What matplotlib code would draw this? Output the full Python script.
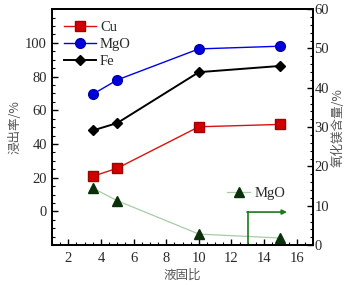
import matplotlib
matplotlib.use("Agg")
import matplotlib.pyplot as plt
from matplotlib.ticker import MultipleLocator

plt.rcParams['font.family'] = ['Liberation Serif', 'Noto Sans CJK SC']

ratio = [3.5, 5, 10, 15]
cu = [20.8, 25.6, 50.2, 51.6]
mgo_leach = [69.5, 78.0, 96.4, 98.0]
fe = [48.0, 52.4, 82.6, 86.3]
mgo_content = [14.5, 11.3, 2.8, 1.8]

x_ticks = [2, 4, 6, 8, 10, 12, 14, 16]
left_ticks = [0, 20, 40, 60, 80, 100]
right_ticks = [0, 10, 20, 30, 40, 50, 60]

cjk = ['Noto Sans CJK SC']
tick_color = '#2a2a2a'
label_color = '#555555'

fig = plt.figure(figsize=(3.51, 2.85), dpi=100)
ax = fig.add_axes([0.148, 0.140, 0.744, 0.828])
ax2 = ax.twinx()

ax.plot(ratio, cu, color='#e01010', marker='s', ms=7, mfc='#d00000', mec='#a00000',
        lw=1.0, label='Cu')
ax.plot(ratio, mgo_leach, color='#0000ee', marker='o', ms=7, mfc='#0000dd', mec='#0000aa',
        lw=1.0, label='MgO')
ax.plot(ratio, fe, color='#000000', marker='D', ms=5.5, mfc='#000000',
        lw=1.4, label='Fe')

ax2.plot(ratio, mgo_content, color='#a8cca8', marker='^', ms=6.5, mfc='#0a300a', mec='#0a300a',
         lw=0.9, label='MgO')

ax.set_xlim(1, 17)
ax.set_ylim(-20, 120)
ax2.set_ylim(0, 60)

ax.set_xticks(x_ticks)
ax.xaxis.set_minor_locator(MultipleLocator(0.5))
ax.set_yticks(left_ticks)
ax.yaxis.set_minor_locator(MultipleLocator(5))
ax2.set_yticks(right_ticks)
ax2.yaxis.set_minor_locator(MultipleLocator(2))

for a in (ax, ax2):
    a.tick_params(which='both', direction='in', labelsize=10.5, colors='#000000',
                  labelcolor=tick_color)
    a.tick_params(which='major', length=4, width=1.0)
    a.tick_params(which='minor', length=2, width=0.8)
    for s in a.spines.values():
        s.set_linewidth(1.3)
ax.tick_params(axis='x', pad=5)
ax2.tick_params(axis='y', pad=1)

ax.set_xlabel('液固比', family=cjk, fontsize=9, color=label_color, labelpad=3)
ax.set_ylabel('浸出率/%', family=cjk, fontsize=9, color=label_color, labelpad=3)
ax2.set_ylabel('氧化镁含量/%', family=cjk, fontsize=9, color=label_color, labelpad=2)

leg = ax.legend(loc='upper left', bbox_to_anchor=(0.0, 1.0), frameon=False,
                fontsize=10.5, handlelength=2.2, handletextpad=0.3, labelspacing=0.25,
                borderaxespad=0.4)
for t in leg.get_texts():
    t.set_color(tick_color)
leg2 = ax2.legend(loc='center left', bbox_to_anchor=(0.62, 0.22), frameon=False,
                  fontsize=10.5, handlelength=1.6, handletextpad=0.3)
for t in leg2.get_texts():
    t.set_color(tick_color)

ax2.plot([13.0, 13.0], [0, 8.4], color='#1a7a1a', lw=1.2)
ax2.annotate('', xy=(15.4, 8.4), xytext=(12.95, 8.4),
             arrowprops=dict(arrowstyle='-|>', color='#1a7a1a', lw=1.2,
                             mutation_scale=7, shrinkA=0, shrinkB=0))

fig.savefig('out.png', dpi=100)
